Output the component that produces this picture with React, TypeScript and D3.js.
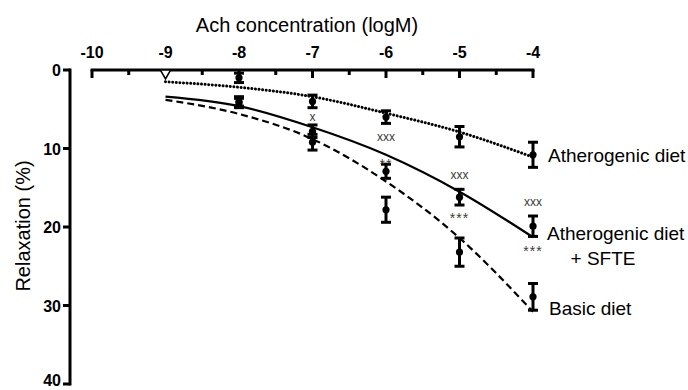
import React, { useRef, useEffect } from 'react';
import * as d3 from 'd3';

// log molar concentration of acetylcholine
const logConc = [-9, -8, -7, -6, -5, -4];
const xTicks = [-10, -9, -8, -7, -6, -5, -4];
const yTicks = [0, 10, 20, 30, 40];

// mean relaxation (%) and SEM per group
const atheroMean = [0, 1.0, 4.0, 6.0, 8.5, 10.8];
const atheroErr = [0, 0.6, 0.8, 0.8, 1.3, 1.6];
const sfteMean = [0, 4.0, 7.8, 12.9, 16.2, 19.9];
const sfteErr = [0, 0.6, 0.8, 0.9, 1.0, 1.3];
const basicMean = [0, 4.2, 9.2, 17.8, 23.2, 28.9];
const basicErr = [0, 0.6, 1.0, 1.6, 1.8, 1.7];

// fitted curves
const atheroFit = [1.5, 2.2, 3.4, 5.5, 7.9, 11.1];
const sfteFit = [3.4, 4.6, 7.3, 10.8, 15.5, 21.3];
const basicFit = [3.8, 5.6, 8.8, 14.2, 21.4, 30.8];

// significance marks
const markText = ['x', 'xxx', '**', 'xxx', '***', 'xxx', '***'];
const markX = [-7, -6, -6, -5, -5, -4, -4];
const markY = [6.0, 8.5, 11.5, 13.4, 18.3, 16.8, 22.5];

const FONT = '"Liberation Sans", Arial, Helvetica, sans-serif';

const App = () => {
  const svgRef = useRef<SVGSVGElement>(null);
  const width = 688;
  const height = 390;

  useEffect(() => {
    const svg = d3.select(svgRef.current);
    svg.selectAll('*').remove();

    const x = d3.scaleLinear().domain([-10, -4]).range([92, 533]);
    const y = d3.scaleLinear().domain([0, 40]).range([70, 384]);

    // x axis on top, ticks pointing down
    const xAxis = svg.append('g');
    xAxis.append('line')
      .attr('x1', x(-10) - 1.5).attr('x2', x(-4) + 1.5)
      .attr('y1', y(0)).attr('y2', y(0))
      .attr('stroke', 'black').attr('stroke-width', 3);
    xAxis.selectAll('.tick')
      .data(d3.range(-10, -3.99, 0.5))
      .enter()
      .append('line')
      .attr('x1', d => x(d)).attr('x2', d => x(d))
      .attr('y1', y(0))
      .attr('y2', d => y(0) + (Number.isInteger(d) ? 8 : 5))
      .attr('stroke', 'black').attr('stroke-width', 3);
    xAxis.selectAll('.lab')
      .data(xTicks)
      .enter()
      .append('text')
      .attr('x', d => x(d))
      .attr('y', 58)
      .attr('text-anchor', 'middle')
      .style('font-family', FONT)
      .style('font-weight', 'bold')
      .style('font-size', '16px')
      .text(d => String(d));

    // y axis, reversed
    const yAxis = svg.append('g');
    yAxis.append('line')
      .attr('x1', 70).attr('x2', 70)
      .attr('y1', y(0) - 1.5).attr('y2', y(40) + 1.5)
      .attr('stroke', 'black').attr('stroke-width', 3);
    yAxis.selectAll('.tick')
      .data(yTicks)
      .enter()
      .append('line')
      .attr('x1', 63).attr('x2', 70)
      .attr('y1', d => y(d)).attr('y2', d => y(d))
      .attr('stroke', 'black').attr('stroke-width', 3);
    yAxis.selectAll('.lab')
      .data(yTicks)
      .enter()
      .append('text')
      .attr('x', 61)
      .attr('y', d => Math.min(y(d) + 6, 386))
      .attr('text-anchor', 'end')
      .style('font-family', FONT)
      .style('font-weight', 'bold')
      .style('font-size', '16px')
      .text(d => String(d));

    svg.append('text')
      .attr('x', 307)
      .attr('y', 32)
      .attr('text-anchor', 'middle')
      .style('font-family', FONT)
      .style('font-size', '20px')
      .text('Ach concentration (logM)');

    svg.append('text')
      .attr('transform', 'translate(30,226) rotate(-90)')
      .attr('text-anchor', 'middle')
      .style('font-family', FONT)
      .style('font-size', '20px')
      .text('Relaxation (%)');

    // fitted curves
    const line = d3.line<number>()
      .x((d, i) => x(logConc[i]))
      .y(d => y(d))
      .curve(d3.curveMonotoneX);

    const curves = [
      { fit: atheroFit, dash: '0.01 3.6', cap: 'round', w: 3 },
      { fit: sfteFit, dash: null, cap: 'butt', w: 2.2 },
      { fit: basicFit, dash: '7 4', cap: 'butt', w: 2.2 },
    ];
    curves.forEach(c => {
      svg.append('path')
        .attr('d', line(c.fit))
        .attr('fill', 'none')
        .attr('stroke', 'black')
        .attr('stroke-width', c.w)
        .attr('stroke-linecap', c.cap)
        .attr('stroke-dasharray', c.dash);
    });

    // error bars and points
    const groups = [atheroMean, basicMean, sfteMean].map((mean, gi) => ({
      mean,
      err: [atheroErr, basicErr, sfteErr][gi],
    }));
    groups.forEach(g => {
      const pts = g.mean.map((m, i) => ({ cx: logConc[i], m, e: g.err[i] }));
      const eb = svg.append('g');
      pts.filter(p => p.e > 0).forEach(p => {
        const px = x(p.cx);
        eb.append('line')
          .attr('x1', px).attr('x2', px)
          .attr('y1', y(p.m - p.e)).attr('y2', y(p.m + p.e))
          .attr('stroke', 'black').attr('stroke-width', 3);
        [p.m - p.e, p.m + p.e].forEach(v => {
          eb.append('line')
            .attr('x1', px - 5).attr('x2', px + 5)
            .attr('y1', y(v)).attr('y2', y(v))
            .attr('stroke', 'black').attr('stroke-width', 3);
        });
      });
      svg.append('g').selectAll('circle')
        .data(pts.filter(p => p.m > 0))
        .enter()
        .append('circle')
        .attr('cx', p => x(p.cx))
        .attr('cy', p => y(p.m))
        .attr('r', 3.6)
        .attr('fill', 'black');
    });

    // the overlapping zero responses at -9 show as an open triangle
    const tri = d3.symbol().type(d3.symbolTriangle).size(45);
    svg.append('path')
      .attr('d', tri)
      .attr('transform', `translate(${x(logConc[0])},${y(sfteMean[0]) + 3}) rotate(180)`)
      .attr('fill', 'white')
      .attr('stroke', 'black')
      .attr('stroke-width', 1.6);

    // significance marks
    svg.append('g').selectAll('text')
      .data(markText.map((t, i) => ({ t, mx: markX[i], my: markY[i] })))
      .enter()
      .append('text')
      .attr('x', d => x(d.mx))
      .attr('y', d => y(d.my) + (d.t[0] === '*' ? 9 : 4))
      .attr('text-anchor', 'middle')
      .attr('fill', '#3a3a3a')
      .style('letter-spacing', d => (d.t[0] === '*' ? '1px' : '0px'))
      .style('font-family', FONT)
      .style('font-size', d => (d.t[0] === '*' ? '14px' : '12px'))
      .text(d => d.t);

    // group labels
    const labels = [
      { t: 'Atherogenic diet', lx: 548, ly: 10.8, anchor: 'start' },
      { t: 'Atherogenic diet', lx: 547, ly: 20.8, anchor: 'start' },
      { t: '+ SFTE', lx: 603, ly: 23.9, anchor: 'middle' },
      { t: 'Basic diet', lx: 549, ly: 30.3, anchor: 'start' },
    ];
    svg.append('g').selectAll('text')
      .data(labels)
      .enter()
      .append('text')
      .attr('x', d => d.lx)
      .attr('y', d => y(d.ly) + 7)
      .attr('text-anchor', d => d.anchor)
      .style('font-family', FONT)
      .style('font-size', '19px')
      .text(d => d.t);
  }, []);

  return (
    <svg
      ref={svgRef}
      width={width}
      height={height}
      style={{ position: 'absolute', left: 0, top: 0, background: 'white' }}
    />
  );
};

export default App;
